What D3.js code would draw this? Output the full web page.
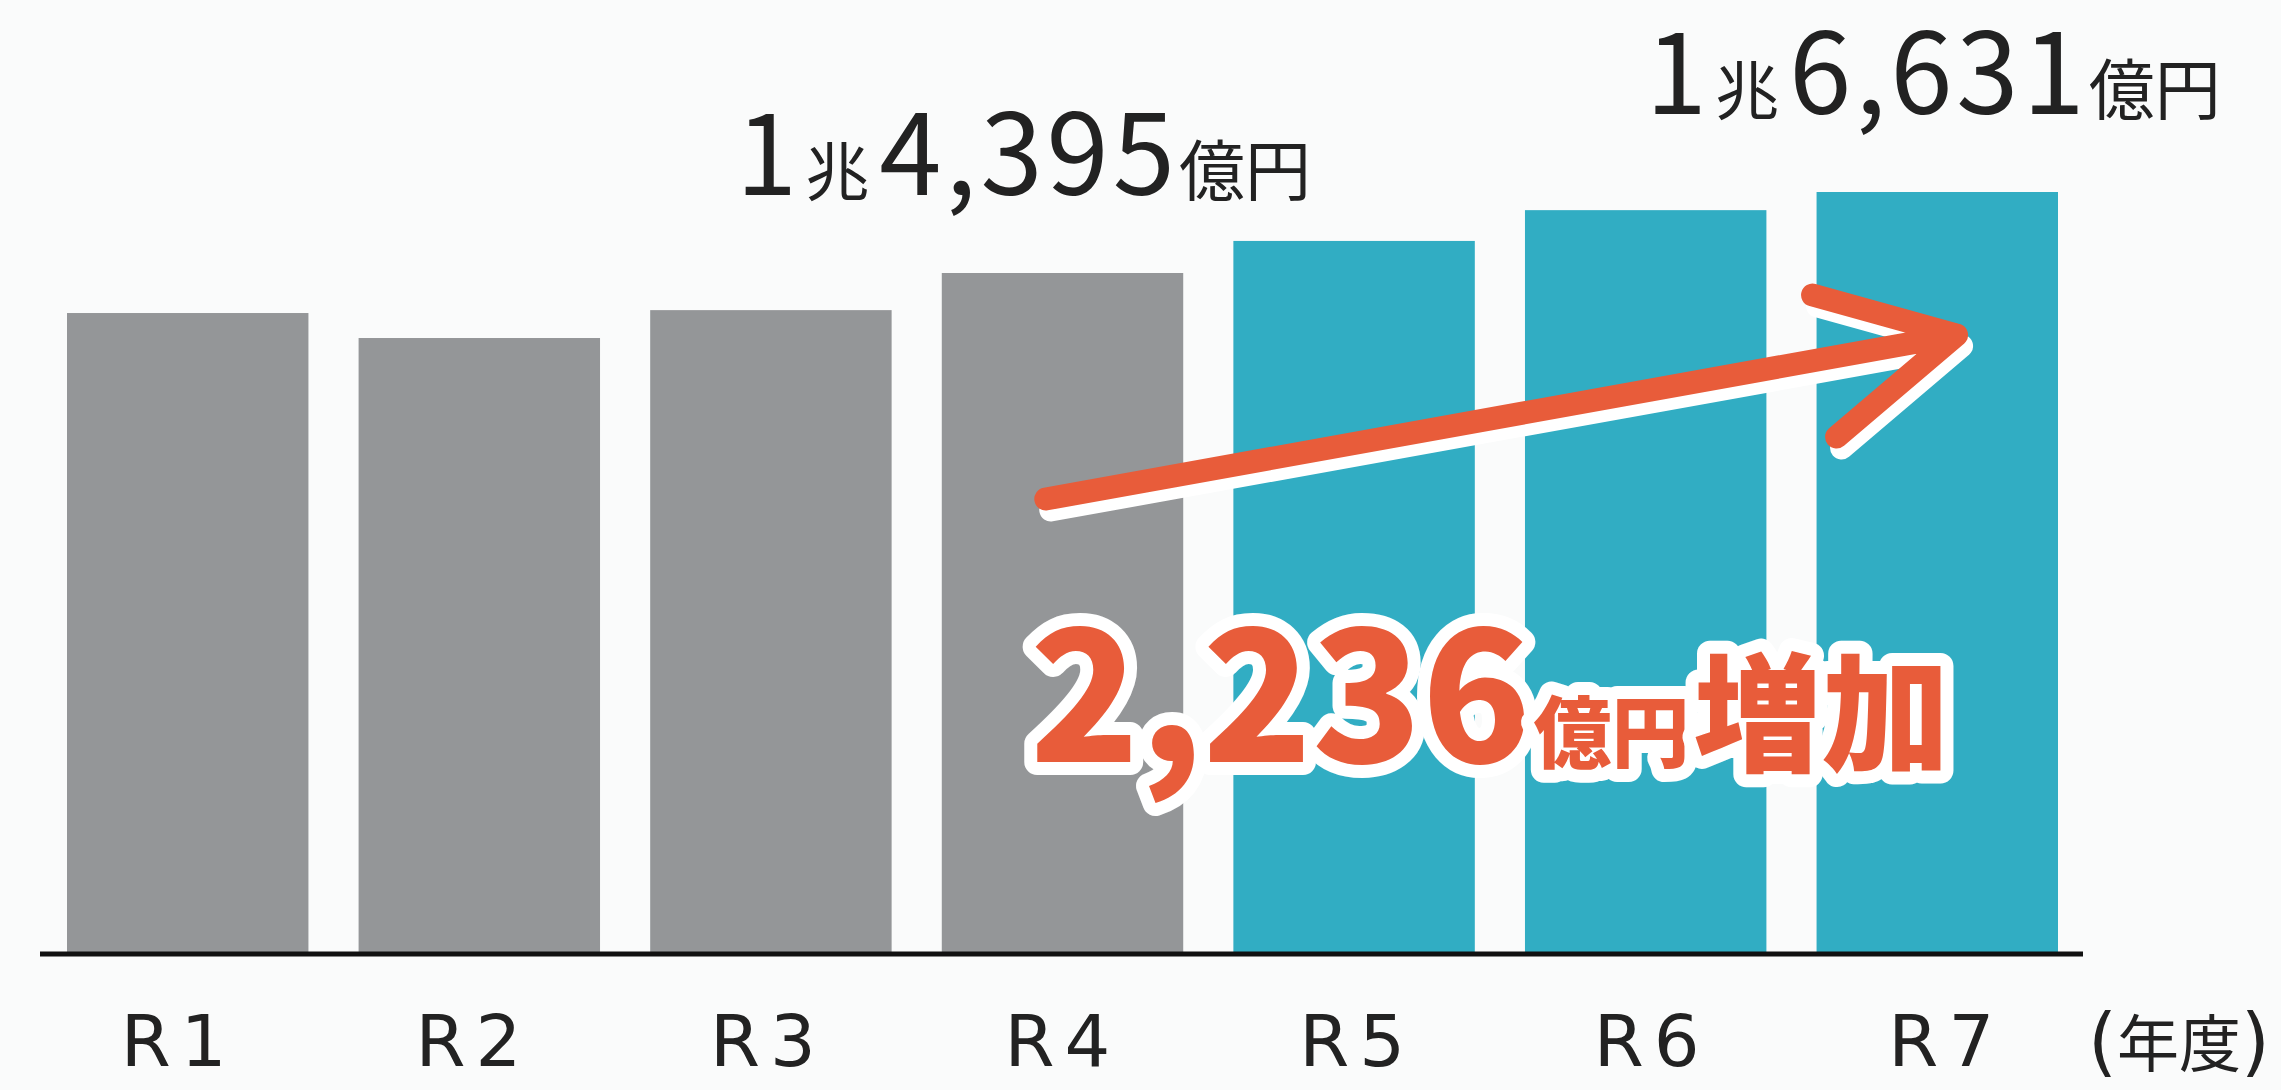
<!DOCTYPE html>
<html>
<head>
<meta charset="utf-8">
<script src="https://cdn.jsdelivr.net/npm/d3@7"></script>
<style>
  html, body { margin: 0; padding: 0; background: #fafbfb; }
  svg { display: block; }
</style>
</head>
<body>
<div id="chart"></div>
<script>
// fiscal years and amounts (億円)
const years = ["R1", "R2", "R3", "R4", "R5", "R6", "R7"];
const amounts = [13290, 12600, 13370, 14395, 15280, 16130, 16631];
const barColors = ["#949698", "#949698", "#949698", "#949698", "#31adc3", "#31adc3", "#31adc3"];
const unitLabel = ["(", "年度", ")"];
// labelled totals: [year, 兆 part, 億 part]
const totalLabels = [["R4", "1", "4,395"], ["R7", "1", "6,631"]];
const increaseText = ["2,236", "億円", "増加"];

const width = 2281, height = 1090;
// the original bars are not drawn from zero
const yFloor = -4350;

const svg = d3.select("#chart")
    .append("svg")
    .attr("width", width)
    .attr("height", height);

const x = d3.scaleBand()
    .domain(years)
    .range([67, 2058])
    .paddingInner(0.172)
    .paddingOuter(0);

const y = d3.scaleLinear()
    .domain([yFloor, d3.max(amounts)])
    .range([952, 192]);

const data = years.map((yr, i) => ({ year: yr, value: amounts[i], color: barColors[i] }));

svg.selectAll(".bar")
    .data(data)
    .enter()
    .append("rect")
    .attr("class", "bar")
    .attr("x", d => x(d.year))
    .attr("y", d => y(d.value))
    .attr("width", x.bandwidth())
    .attr("height", d => y(yFloor) - y(d.value))
    .attr("fill", d => d.color);

// baseline, a bit wider than the bars
svg.append("line")
    .attr("x1", x.range()[0] - 27)
    .attr("x2", x.range()[1] + 25)
    .attr("y1", y(yFloor) + 2)
    .attr("y2", y(yFloor) + 2)
    .attr("stroke", "#111")
    .attr("stroke-width", 5);

const xAxis = svg.append("g")
    .attr("transform", `translate(0,${y(yFloor)})`)
    .call(d3.axisBottom(x).tickSize(0));
xAxis.select(".domain").remove();
xAxis.selectAll("text")
    .attr("y", 114)
    .attr("dy", 0)
    .attr("dx", (d, i) => (i - 3) * 3)
    .style("font-family", "'DejaVu Sans', sans-serif")
    .style("font-size", "72px")
    .style("letter-spacing", "10px")
    .style("fill", "#222");

// (年度)
const unit = svg.append("text")
    .attr("x", 2088)
    .attr("y", y(yFloor) + 115)
    .style("fill", "#222");
unit.append("tspan").style("font-family", "'DejaVu Sans', sans-serif").style("font-size", "74px").text(unitLabel[0]);
unit.append("tspan").style("font-family", "'Noto Sans CJK JP', sans-serif").style("font-size", "62px").text(unitLabel[1]);
unit.append("tspan").style("font-family", "'DejaVu Sans', sans-serif").style("font-size", "74px").text(unitLabel[2]);

// arrow with white offset shadow
const i4 = years.indexOf("R4"), i7 = years.indexOf("R7");
const tail = [x("R4") + 104, y(amounts[i4]) + 226];
const tip = [x("R7") + 140, y(amounts[i7]) + 143];
const barbA = [tip[0] - 144, tip[1] - 40];
const barbB = [tip[0] - 120, tip[1] + 102];
const arrowPath = `M${tail}L${tip}M${barbA}L${tip}L${barbB}`;

svg.append("path")
    .attr("d", arrowPath)
    .attr("transform", "translate(5,11)")
    .attr("fill", "none")
    .attr("stroke", "#ffffff")
    .attr("stroke-width", 23)
    .attr("stroke-linecap", "round")
    .attr("stroke-linejoin", "round");

svg.append("path")
    .attr("d", arrowPath)
    .attr("fill", "none")
    .attr("stroke", "#e85c3a")
    .attr("stroke-width", 23)
    .attr("stroke-linecap", "round")
    .attr("stroke-linejoin", "round");

// 2,236億円増加
const inc = svg.append("text")
    .attr("x", x("R4") + 88)
    .attr("y", y(yFloor) - 190)
    .style("font-family", "'Noto Sans CJK JP', sans-serif")
    .style("font-weight", 900)
    .style("fill", "#e85c3a")
    .style("stroke", "#ffffff")
    .style("stroke-width", 26)
    .style("stroke-linejoin", "round")
    .style("paint-order", "stroke");
inc.append("tspan").style("font-size", "180px").text(increaseText[0]);
inc.append("tspan").style("font-size", "78px").attr("dx", 2).text(increaseText[1]);
inc.append("tspan").style("font-size", "128px").attr("dx", 4).text(increaseText[2]);

// totals above R4 and R7
const labelShift = { R4: -39, R7: -4 };
totalLabels.forEach(([yr, cho, oku]) => {
    const v = amounts[years.indexOf(yr)];
    const t = svg.append("text")
        .attr("x", x(yr) + x.bandwidth() / 2 + labelShift[yr])
        .attr("y", y(v) - 78)
        .attr("text-anchor", "middle")
        .style("font-family", "'Noto Sans CJK JP', sans-serif")
        .style("fill", "#222");
    t.append("tspan").style("font-size", "110px").text(cho);
    t.append("tspan").style("font-size", "64px").attr("dx", 8).text("兆");
    t.append("tspan").style("font-size", "112px").attr("dx", 10).style("letter-spacing", "4px").text(oku);
    t.append("tspan").style("font-size", "66px").text("億円");
});
</script>
</body>
</html>
